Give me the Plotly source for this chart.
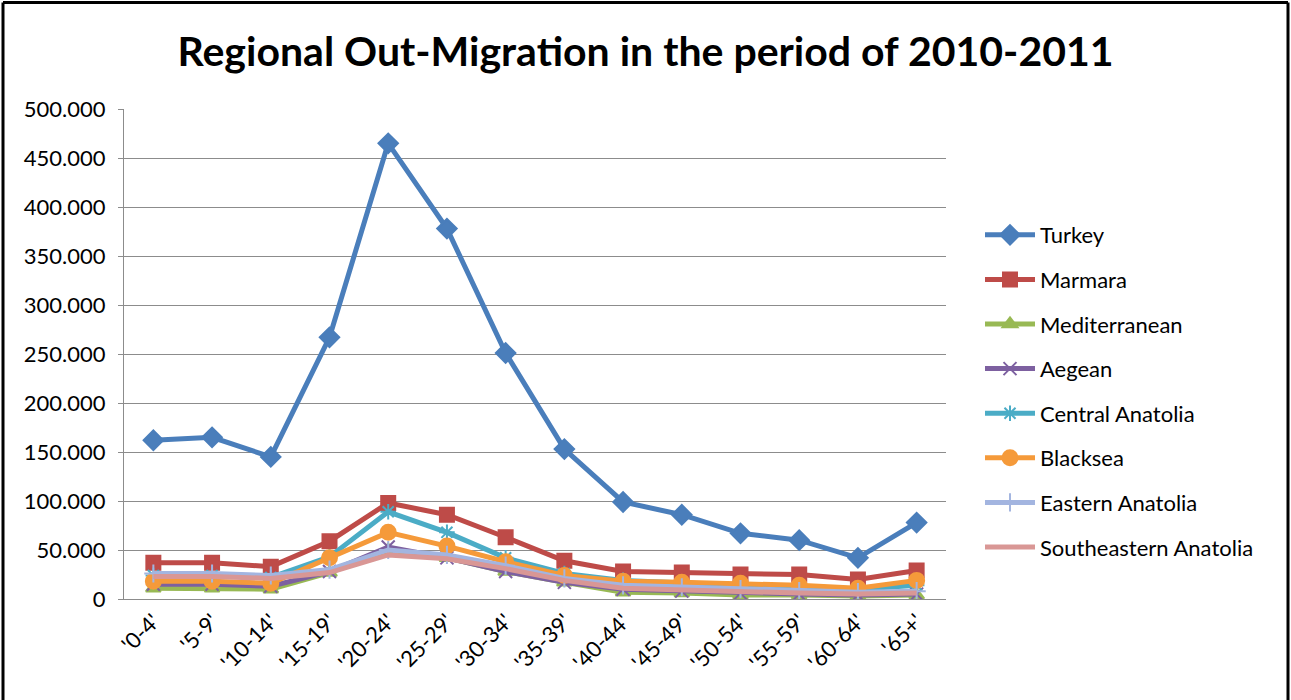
import plotly.graph_objects as go

# Age groups on the category axis
age_groups = ["'0-4'", "'5-9'", "'10-14'", "'15-19'", "'20-24'", "'25-29'", "'30-34'",
              "'35-39'", "'40-44'", "'45-49'", "'50-54'", "'55-59'", "'60-64'", "'65+'"]

# Out-migrants per age group (persons)
turkey = [162000, 165000, 145000, 267000, 465000, 378000, 251000, 153000, 99000, 86000, 67000, 60000, 42000, 78000]
marmara = [37000, 37000, 33000, 59000, 98000, 86000, 63000, 39000, 28000, 27000, 25000, 25000, 20000, 29000]
mediterranean = [11000, 11000, 10000, 27000, 50000, 42000, 28000, 17000, 7000, 6000, 4000, 4000, 3000, 4000]
aegean = [15000, 15000, 13000, 28000, 53000, 42000, 28000, 17000, 10000, 8000, 6000, 5000, 4000, 5000]
central_anatolia = [24000, 24000, 22000, 43000, 89000, 68000, 42000, 26000, 19000, 16000, 14000, 13000, 10000, 14000]
blacksea = [18000, 18000, 16000, 42000, 68000, 54000, 38000, 24000, 18000, 17000, 16000, 14000, 11000, 19000]
eastern_anatolia = [26000, 26000, 24000, 30000, 50000, 45000, 34000, 21000, 14000, 12000, 10000, 8000, 7000, 8000]
southeastern_anatolia = [23000, 23000, 21000, 27000, 45000, 41000, 31000, 19000, 11000, 9000, 7000, 6000, 5000, 6000]

y_ticks = [0, 50000, 100000, 150000, 200000, 250000, 300000, 350000, 400000, 450000, 500000]

series = [
    ("Turkey", turkey, "#4A7EBB", "diamond", 15),
    ("Marmara", marmara, "#BE4B48", "square", 14),
    ("Mediterranean", mediterranean, "#98B954", "triangle-up", 13),
    ("Aegean", aegean, "#7D60A0", "x-thin-open", 13),
    ("Central Anatolia", central_anatolia, "#4BACC6", "asterisk-open", 13),
    ("Blacksea", blacksea, "#F59A3A", "circle", 15),
    ("Eastern Anatolia", eastern_anatolia, "#A3B5E0", "cross-thin-open", 13),
    ("Southeastern Anatolia", southeastern_anatolia, "#D99795", None, 0),
]

fig = go.Figure()
for i, (name, values, color, symbol, size) in enumerate(series):
    marker = dict(color=color, size=size, line=dict(color=color, width=2))
    if symbol is None:
        mode = "lines"
    else:
        mode = "lines+markers"
        marker["symbol"] = symbol
    fig.add_trace(go.Scatter(
        x=age_groups, y=values, name=name, mode=mode,
        line=dict(color=color, width=5),
        marker=marker,
        legendgroup=f"g{i}",
    ))

grid = "#8C8C8C"
L, R, T, B = 124, 345, 109, 101
W, H = 1291, 700
pw, ph = W - L - R, H - T - B

def px_x(p):
    return (p - L) / pw

def px_y(p):
    return (H - B - p) / ph

frame = [
    dict(x0=px_x(3), x1=px_x(1288), y0=px_y(2.5), y1=px_y(2.5)),
    dict(x0=px_x(3), x1=px_x(3), y0=px_y(2.5), y1=px_y(702)),
    dict(x0=px_x(1288), x1=px_x(1288), y0=px_y(2.5), y1=px_y(702)),
]
shapes = [dict(type="line", xref="paper", yref="paper", line=dict(color="black", width=3), **f)
          for f in frame]

fig.update_layout(
    width=W, height=H,
    margin=dict(l=L, r=R, t=T, b=B),
    paper_bgcolor="white",
    plot_bgcolor="white",
    separators=",.",
    font=dict(family="Lato, Carlito, Calibri, sans-serif", color="black", size=22),
    title=dict(text="<b>Regional Out-Migration in the period of 2010-2011</b>",
               x=0.5, xanchor="center", y=1 - 52 / H, yanchor="middle",
               font=dict(size=41, color="black")),
    xaxis=dict(
        type="category", showgrid=False, showline=True, linecolor=grid, linewidth=1,
        tickangle=-45, ticks="", tickfont=dict(size=22),
        range=[-0.5, len(age_groups) - 0.5],
    ),
    yaxis=dict(
        range=[0, 500000], tickvals=y_ticks, tickformat=",d",
        showgrid=True, gridcolor=grid, gridwidth=1,
        showline=True, linecolor=grid, linewidth=1,
        ticks="outside", ticklen=5, tickcolor=grid, tickfont=dict(size=22),
        ticklabelstandoff=8,
        zeroline=False,
    ),
    legend=dict(
        x=px_x(980), xanchor="left", y=px_y(391), yanchor="middle",
        font=dict(size=22), tracegroupgap=13, itemwidth=50,
        bgcolor="rgba(0,0,0,0)",
    ),
    showlegend=True,
    shapes=shapes,
)

fig.write_html("out.html")
